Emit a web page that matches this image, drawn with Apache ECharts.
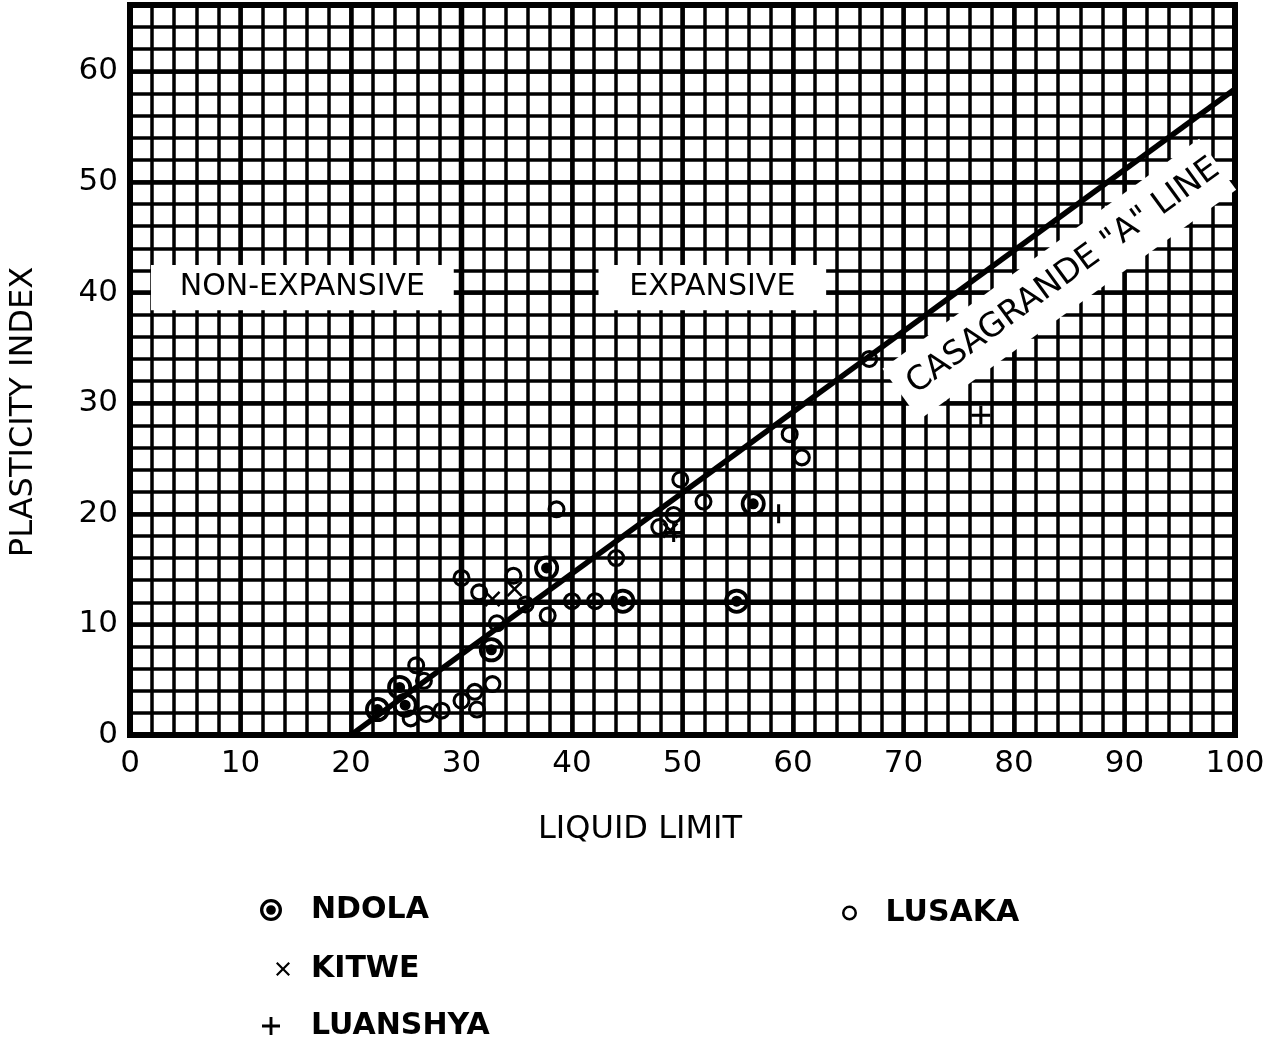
<!DOCTYPE html>
<html>
<head>
<meta charset="utf-8">
<script src="https://cdn.jsdelivr.net/npm/echarts@6/dist/echarts.min.js"></script>
<style>
html,body{margin:0;padding:0;background:#fff;}
#c{width:1278px;height:1039px;}
</style>
</head>
<body>
<div id="c"></div>
<script>
// ---- data ----
const xTickValues = [0, 10, 20, 30, 40, 50, 60, 70, 80, 90, 100];
const yTickValues = [0, 10, 20, 30, 40, 50, 60];

const ndolaLL = [22.4, 24.4, 24.9, 32.7, 37.7, 44.6, 54.9, 56.4];
const ndolaPI = [2.3, 4.3, 2.7, 7.7, 15.1, 12.1, 12.1, 20.9];

const kitweLL = [32.8, 34.8, 48.9];
const kitwePI = [12.3, 13.2, 18.5];

const luanshyaLL = [49.2, 58.7, 77.0];
const luanshyaPI = [18.3, 20.0, 28.9];

const lusakaLL = [25.9, 26.6, 25.4, 26.8, 28.2, 30.0, 31.4, 31.2, 32.8, 33.2, 30.0, 31.6, 35.8, 37.8, 40.0, 42.1, 34.7, 38.6, 44.0, 47.9, 49.2, 49.8, 51.9, 59.7, 60.8, 66.9];
const lusakaPI = [6.3, 4.9, 1.5, 1.9, 2.2, 3.1, 2.3, 3.9, 4.6, 10.1, 14.2, 12.9, 11.8, 10.8, 12.1, 12.1, 14.4, 20.4, 16.0, 18.8, 19.9, 23.1, 21.1, 27.2, 25.1, 34.0];

const aLineLL = [20, 100];
const aLinePI = [0, 58.4];

const boundaryLL = [30, 30, 100];
const boundaryPI = [66, 12, 12];

const seriesNames = ['NDOLA', 'KITWE', 'LUANSHYA', 'LUSAKA'];
const regionNames = ['NON-EXPANSIVE', 'EXPANSIVE'];
const aLineName = 'CASAGRANDE "A" LINE';
const xTitle = 'LIQUID LIMIT';
const yTitle = 'PLASTICITY INDEX';

// ---- symbols ----
const ringPath = 'path://M0,10 A10,10 0 1,1 20,10 A10,10 0 1,1 0,10 Z M3.4,10 A6.6,6.6 0 1,0 16.6,10 A6.6,6.6 0 1,0 3.4,10 Z';
const bullPath = 'path://M0,10 A10,10 0 1,1 20,10 A10,10 0 1,1 0,10 Z M3.0,10 A7.0,7.0 0 1,0 17.0,10 A7.0,7.0 0 1,0 3.0,10 Z M5.6,10 A4.4,4.4 0 1,1 14.4,10 A4.4,4.4 0 1,1 5.6,10 Z';
const xPath = 'path://M0,2.2 L2.2,0 L10,7.8 L17.8,0 L20,2.2 L12.2,10 L20,17.8 L17.8,20 L10,12.2 L2.2,20 L0,17.8 L7.8,10 Z';
const plusPath = 'path://M8.4,0 H11.6 V8.4 H20 V11.6 H11.6 V20 H8.4 V11.6 H0 V8.4 H8.4 Z';

const zip = (a, b) => a.map((v, i) => [v, b[i]]);
const FONT = 'DejaVu Sans';
const legendText = {fontSize: 30, fontWeight: 'bold', fontFamily: FONT, color: '#000'};

const chart = echarts.init(document.getElementById('c'), null, {renderer: 'canvas'});

const option = {
  backgroundColor: '#fff',
  animation: false,
  textStyle: {fontFamily: FONT, color: '#000'},
  grid: {left: 130, right: 43, top: 5, bottom: 304, show: true, borderColor: '#000', borderWidth: 6, backgroundColor: 'transparent'},
  xAxis: [
    {type: 'value', min: 0, max: 100, interval: 10,
     axisLine: {show: false}, axisTick: {show: false},
     axisLabel: {color: '#000', fontSize: 31, fontFamily: FONT, margin: 13,
       formatter: v => xTickValues.includes(v) ? String(v) : ''},
     splitLine: {show: true, lineStyle: {color: '#000', width: 4.5}}},
    {type: 'value', min: 0, max: 100, interval: 2, position: 'bottom',
     axisLine: {show: false}, axisTick: {show: false}, axisLabel: {show: false},
     splitLine: {show: true, lineStyle: {color: '#000', width: 3.5}}}
  ],
  yAxis: [
    {type: 'value', min: 0, max: 66, interval: 10,
     axisLine: {show: false}, axisTick: {show: false},
     axisLabel: {color: '#000', fontSize: 31, fontFamily: FONT, margin: 12, showMaxLabel: false,
       formatter: v => yTickValues.includes(v) ? String(v) : ''},
     splitLine: {show: true, lineStyle: {color: '#000', width: 4.5}}},
    {type: 'value', min: 0, max: 66, interval: 2, position: 'left',
     axisLine: {show: false}, axisTick: {show: false}, axisLabel: {show: false},
     splitLine: {show: true, lineStyle: {color: '#000', width: 3.5}}}
  ],
  legend: [
    {data: [{name: seriesNames[0], icon: bullPath}], left: 260, top: 895, padding: 0, itemWidth: 70, itemHeight: 22,
     selectedMode: false, textStyle: legendText},
    {data: [{name: seriesNames[1], icon: xPath}], left: 276, top: 954, padding: 0, itemWidth: 46, itemHeight: 14,
     selectedMode: false, textStyle: legendText},
    {data: [{name: seriesNames[2], icon: plusPath}], left: 262, top: 1011, padding: 0, itemWidth: 70, itemHeight: 18,
     selectedMode: false, textStyle: legendText},
    {data: [{name: seriesNames[3], icon: ringPath}], left: 842, top: 898, padding: 0, itemWidth: 62, itemHeight: 15,
     selectedMode: false, textStyle: legendText}
  ],
  graphic: [
    {type: 'text', x: 24, y: 412, rotation: Math.PI / 2,
     style: {text: yTitle, font: '32px "DejaVu Sans"', fill: '#000', textAlign: 'center', textVerticalAlign: 'middle'}},
    {type: 'text', x: 640, y: 830,
     style: {text: xTitle, font: '32px "DejaVu Sans"', fill: '#000', textAlign: 'center', textVerticalAlign: 'middle'}}
  ],
  series: [
    {name: 'boundary', type: 'line', xAxisIndex: 0, yAxisIndex: 0, data: zip(boundaryLL, boundaryPI),
     symbol: 'none', lineStyle: {color: '#000', width: 5.5}, z: 3, silent: true,
     markArea: {silent: true, itemStyle: {color: '#fff', opacity: 1},
       label: {show: true, position: 'inside', color: '#000', fontSize: 30, fontFamily: FONT},
       data: [
         [{coord: [1.9, 38.4], name: regionNames[0]}, {coord: [29.3, 42.5]}],
         [{coord: [42.4, 38.4], name: regionNames[1]}, {coord: [63.0, 42.5]}]
       ]}},
    {name: 'aline', type: 'line', xAxisIndex: 0, yAxisIndex: 0, data: zip(aLineLL, aLinePI),
     symbol: 'none', lineStyle: {color: '#000', width: 5.5}, z: 4, silent: true,
     markPoint: {silent: true, symbol: 'circle', symbolSize: 0.01,
       label: {show: true, position: 'inside', formatter: aLineName, rotate: 36, color: '#000',
         fontSize: 33, fontFamily: FONT, backgroundColor: '#fff', padding: [4, 2, 26, 12]},
       data: [{coord: [84.1, 41.2]}]}},
    {name: seriesNames[0], type: 'scatter', xAxisIndex: 0, yAxisIndex: 0, data: zip(ndolaLL, ndolaPI),
     symbol: bullPath, symbolSize: 25, itemStyle: {color: '#000', opacity: 1}, z: 5},
    {name: seriesNames[1], type: 'scatter', xAxisIndex: 0, yAxisIndex: 0, data: zip(kitweLL, kitwePI),
     symbol: xPath, symbolSize: 16, itemStyle: {color: '#000', opacity: 1}, z: 5},
    {name: seriesNames[2], type: 'scatter', xAxisIndex: 0, yAxisIndex: 0, data: zip(luanshyaLL, luanshyaPI),
     symbol: plusPath, symbolSize: 19, itemStyle: {color: '#000', opacity: 1}, z: 5},
    {name: seriesNames[3], type: 'scatter', xAxisIndex: 0, yAxisIndex: 0, data: zip(lusakaLL, lusakaPI),
     symbol: ringPath, symbolSize: 18, itemStyle: {color: '#000', opacity: 1}, z: 5}
  ]
};
chart.setOption(option);
</script>
</body>
</html>
